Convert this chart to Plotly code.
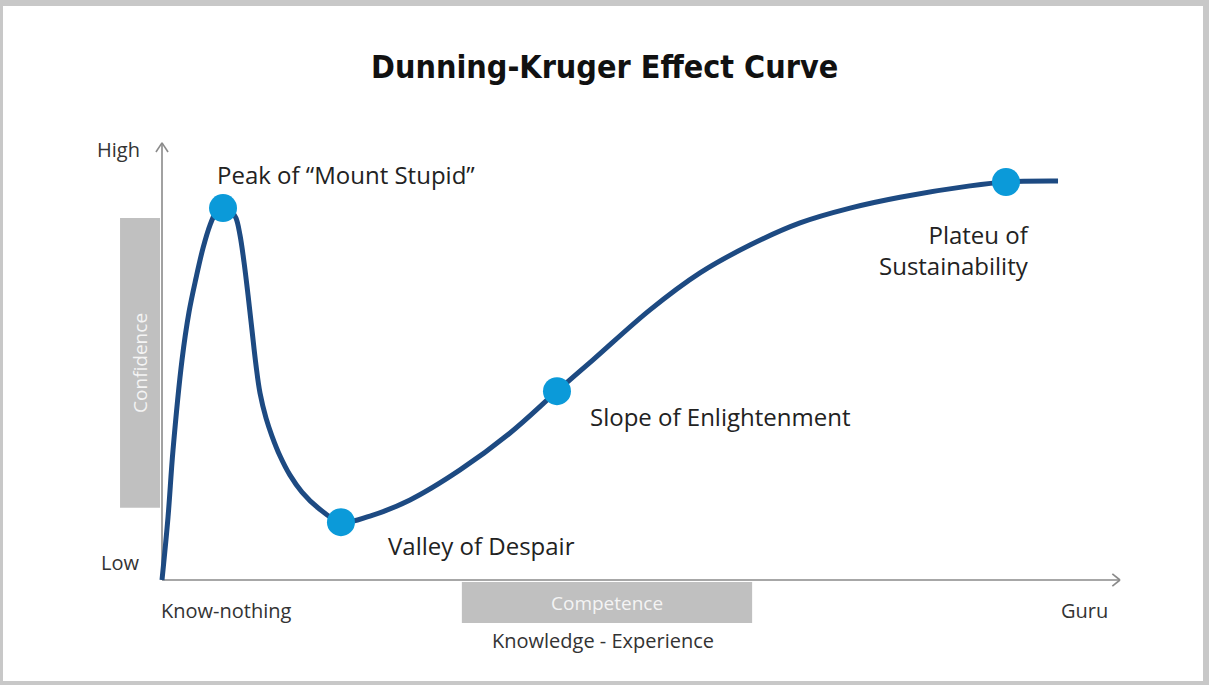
import plotly.graph_objects as go

# Curve: knowledge (0 = know-nothing, 100 = arrow tip) vs confidence (0 = low, 100 = high)
knowledge = [0, 0.63, 1.15, 2.09, 2.82, 3.55, 4.28, 5.01, 5.64, 6.37, 7.10, 7.72, 8.14, 8.56,
             8.98, 9.39, 9.81, 10.23, 10.86, 11.48, 12.32, 13.36, 14.61, 16.28, 18.68,
             21.71, 25.89, 31.11, 36.33, 41.23, 44.99, 50.94, 56.16, 61.38, 66.60, 71.82,
             77.04, 84.34, 88.10, 93.53]
confidence = [0, 14.5, 29.9, 50.6, 61.6, 69.4, 76.3, 81.6, 84.6, 86.2, 85.3, 83.2, 79.3, 73.1,
              65.5, 57.5, 49.4, 43.0, 37.2, 33.1, 28.5, 24.1, 20.2, 16.6, 13.3,
              14.7, 18.4, 25.3, 33.8, 43.4, 50.6, 62.1, 70.6, 77.0, 82.1, 85.5,
              88.0, 90.6, 91.5, 91.7]

stage_names = ["Peak of “Mount Stupid”", "Valley of Despair", "Slope of Enlightenment",
               "Plateu of<br>Sustainability"]
stage_x = [6.37, 18.68, 41.23, 88.10]
stage_y = [85.5, 13.3, 43.4, 91.5]
label_x = [5.53, 23.38, 44.47, 90.8]
label_y = [93.3, 8.0, 37.7, 75.9]
label_anchor = ["left", "left", "left", "right"]

W, H = 1209, 685
ORIGIN_PX = (162, 580)          # pixel of (0, 0)
PX_X, PX_Y = 9.58, 4.35         # pixels per unit

x_range = [-ORIGIN_PX[0] / PX_X, (W - ORIGIN_PX[0]) / PX_X]
y_range = [-(H - ORIGIN_PX[1]) / PX_Y, ORIGIN_PX[1] / PX_Y]

LINE = "#1d4a82"
DOT = "#0b9ad9"
AXIS = "#8a8a8a"
BOX = "#c0c0c0"
FONT = "Open Sans"

fig = go.Figure()

fig.add_trace(go.Scatter(
    x=knowledge, y=confidence, mode="lines",
    line=dict(color=LINE, width=5, shape="spline", smoothing=1.0),
    hoverinfo="skip"
))

fig.add_trace(go.Scatter(
    x=stage_x, y=stage_y, mode="markers",
    marker=dict(color=DOT, size=28, line=dict(width=0)),
    hoverinfo="skip"
))

# white card on grey frame
fig.add_shape(type="rect", xref="paper", yref="paper",
              x0=3 / W, x1=1203 / W, y0=1 - 681 / H, y1=1 - 6 / H,
              fillcolor="white", line=dict(width=0), layer="below")

# grey label boxes
fig.add_shape(type="rect", x0=-4.38, x1=-0.21, y0=16.6, y1=83.2,
              fillcolor=BOX, line=dict(width=0), layer="below")
fig.add_shape(type="rect", x0=31.3, x1=61.6, y0=-9.9, y1=-0.46,
              fillcolor=BOX, line=dict(width=0), layer="below")

# axes with open arrow heads
ax_line = dict(color=AXIS, width=1.6)
fig.add_shape(type="line", x0=0, y0=0, x1=0, y1=100.5, line=ax_line, layer="below")
fig.add_shape(type="line", x0=0, y0=0, x1=100, y1=0, line=ax_line, layer="below")
fig.add_shape(type="line", x0=-0.63, y0=98.4, x1=0, y1=100.5, line=ax_line)
fig.add_shape(type="line", x0=0.63, y0=98.4, x1=0, y1=100.5, line=ax_line)
fig.add_shape(type="line", x0=99.2, y0=1.4, x1=100, y1=0, line=ax_line)
fig.add_shape(type="line", x0=99.2, y0=-1.4, x1=100, y1=0, line=ax_line)

for name, lx, ly, anc in zip(stage_names, label_x, label_y, label_anchor):
    fig.add_annotation(x=lx, y=ly, text=name, showarrow=False, xanchor=anc, align=anc,
                       font=dict(family=FONT, size=24, color="#222222"))

small = dict(family=FONT, size=20, color="#333333")
fig.add_annotation(x=-4.59, y=98.9, text="High", showarrow=False, font=small)
fig.add_annotation(x=-4.38, y=4.1, text="Low", showarrow=False, font=small)
fig.add_annotation(x=-0.3, y=-7.1, text="Know-nothing", showarrow=False, xanchor="left", font=small)
fig.add_annotation(x=96.3, y=-7.1, text="Guru", showarrow=False, font=small)
fig.add_annotation(x=46.0, y=-14.0, text="Knowledge - Experience", showarrow=False, font=small)
fig.add_annotation(x=46.45, y=-5.3, text="Competence", showarrow=False,
                   font=dict(family=FONT, size=19, color="#f4f4f4"))
fig.add_annotation(x=-2.30, y=49.9, text="Confidence", showarrow=False, textangle=-90,
                   font=dict(family=FONT, size=19, color="#f4f4f4"))

fig.add_annotation(xref="paper", yref="paper", x=0.5, y=1 - 67 / H, yanchor="middle",
                   text="<b>Dunning-Kruger Effect Curve</b>", showarrow=False,
                   font=dict(family="Liberation Sans Narrow, DejaVu Sans Condensed, sans-serif",
                             size=32, color="#111111"))

fig.update_layout(
    width=W, height=H,
    margin=dict(l=0, r=0, t=0, b=0),
    paper_bgcolor="#c8c8c8",
    plot_bgcolor="rgba(0,0,0,0)",
    showlegend=False,
    xaxis=dict(range=x_range, visible=False, fixedrange=True),
    yaxis=dict(range=y_range, visible=False, fixedrange=True),
)

fig.write_html("out.html", config=dict(displayModeBar=False),
               post_script="document.body.style.margin='0';")
